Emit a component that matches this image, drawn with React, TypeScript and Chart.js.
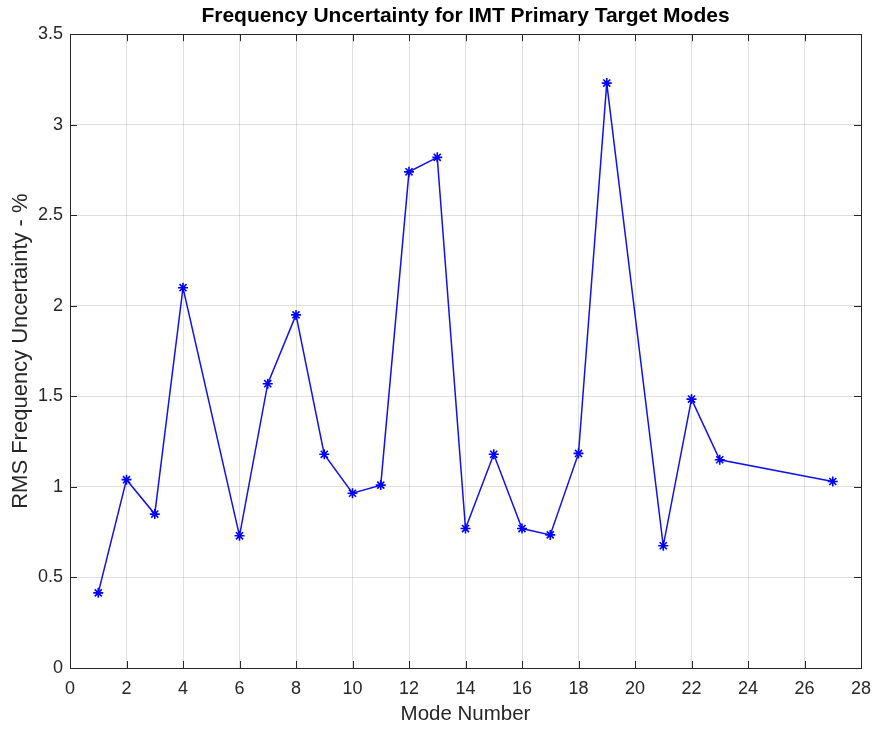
import React, { useEffect, useRef } from "react";
import { Chart, registerables } from "chart.js";

Chart.register(...registerables);

const modes = [1, 2, 3, 4, 6, 7, 8, 9, 10, 11, 12, 13, 14, 15, 16, 17, 18, 19, 21, 22, 23, 27];
const uncertainty = [0.415, 1.04, 0.85, 2.1, 0.73, 1.57, 1.95, 1.18, 0.965, 1.01, 2.74, 2.82, 0.77, 1.18, 0.77, 0.735, 1.185, 3.23, 0.675, 1.485, 1.15, 1.03];
const xTicks = [0, 2, 4, 6, 8, 10, 12, 14, 16, 18, 20, 22, 24, 26, 28];
const yTicks = [0, 0.5, 1, 1.5, 2, 2.5, 3, 3.5];

const FONT = "Liberation Sans, Arial, Helvetica, sans-serif";
const AXIS = "#262626";

const boxPlugin = {
  id: "matlabBox",
  afterDraw(chart: any) {
    const { ctx, chartArea: a, scales } = chart;
    ctx.save();
    ctx.strokeStyle = AXIS;
    ctx.lineWidth = 1;
    ctx.beginPath();
    const tl = 7;
    for (const v of xTicks) {
      const px = Math.round(scales.x.getPixelForValue(v)) + 0.5;
      ctx.moveTo(px, a.bottom);
      ctx.lineTo(px, a.bottom - tl);
      ctx.moveTo(px, a.top);
      ctx.lineTo(px, a.top + tl);
    }
    for (const v of yTicks) {
      const py = Math.round(scales.y.getPixelForValue(v)) + 0.5;
      ctx.moveTo(a.left, py);
      ctx.lineTo(a.left + tl, py);
      ctx.moveTo(a.right, py);
      ctx.lineTo(a.right - tl, py);
    }
    ctx.stroke();
    ctx.strokeRect(Math.round(a.left) + 0.5, Math.round(a.top) + 0.5, Math.round(a.right - a.left), Math.round(a.bottom - a.top));
    ctx.restore();
  },
};

export default function App() {
  const ref = useRef<HTMLCanvasElement>(null);
  useEffect(() => {
    document.body.style.margin = "0";
    const chart = new Chart(ref.current!, {
      type: "line",
      data: {
        datasets: [
          {
            data: modes.map((m, i) => ({ x: m, y: uncertainty[i] })),
            borderColor: "#1010f0",
            borderWidth: 1.5,
            pointStyle: "star",
            pointRadius: 5,
            pointBorderColor: "#0000ff",
            pointBorderWidth: 1.6,
            pointBackgroundColor: "#0000ff",
            tension: 0,
            fill: false,
          },
        ],
      },
      plugins: [boxPlugin],
      options: {
        animation: false,
        responsive: false,
        layout: { padding: { left: 0, right: 15, top: 0, bottom: 0 } },
        plugins: {
          legend: { display: false },
          tooltip: { enabled: false },
          title: {
            display: true,
            fullSize: false,
            text: "Frequency Uncertainty for IMT Primary Target Modes",
            color: "#000",
            font: { family: FONT, size: 21, weight: "bold" },
            padding: { top: 4, bottom: 5 },
          },
        },
        scales: {
          x: {
            type: "linear",
            min: 0,
            max: 28,
            afterBuildTicks: (s: any) => {
              s.ticks = xTicks.map((v) => ({ value: v }));
            },
            afterFit: (s: any) => {
              s.height = 64;
              s.paddingRight = 0;
              s.paddingLeft = 0;
            },
            ticks: {
              color: AXIS,
              font: { family: FONT, size: 18 },
              padding: 10,
              maxRotation: 0,
              autoSkip: false,
              callback: (v: any) => String(v),
            },
            grid: { color: "rgba(0,0,0,0.12)", drawTicks: false, tickLength: 0 },
            border: { display: false },
            title: {
              display: true,
              text: "Mode Number",
              color: AXIS,
              font: { family: FONT, size: 20.5 },
              padding: { top: 0, bottom: 5 },
            },
          },
          y: {
            type: "linear",
            min: 0,
            max: 3.5,
            afterBuildTicks: (s: any) => {
              s.ticks = yTicks.map((v) => ({ value: v }));
            },
            afterFit: (s: any) => {
              s.width = 70;
              s.paddingTop = 0;
              s.paddingBottom = 0;
            },
            ticks: {
              color: AXIS,
              font: { family: FONT, size: 18 },
              padding: 7,
              autoSkip: false,
              callback: (v: any) => String(v),
            },
            grid: { color: "rgba(0,0,0,0.12)", drawTicks: false, tickLength: 0 },
            border: { display: false },
            title: {
              display: true,
              text: "RMS Frequency Uncertainty - %",
              color: AXIS,
              font: { family: FONT, size: 22 },
              padding: { top: 8, bottom: 0 },
            },
          },
        },
      },
    } as any);
    return () => chart.destroy();
  }, []);
  return <canvas ref={ref} width={876} height={732} style={{ display: "block" }} />;
}
